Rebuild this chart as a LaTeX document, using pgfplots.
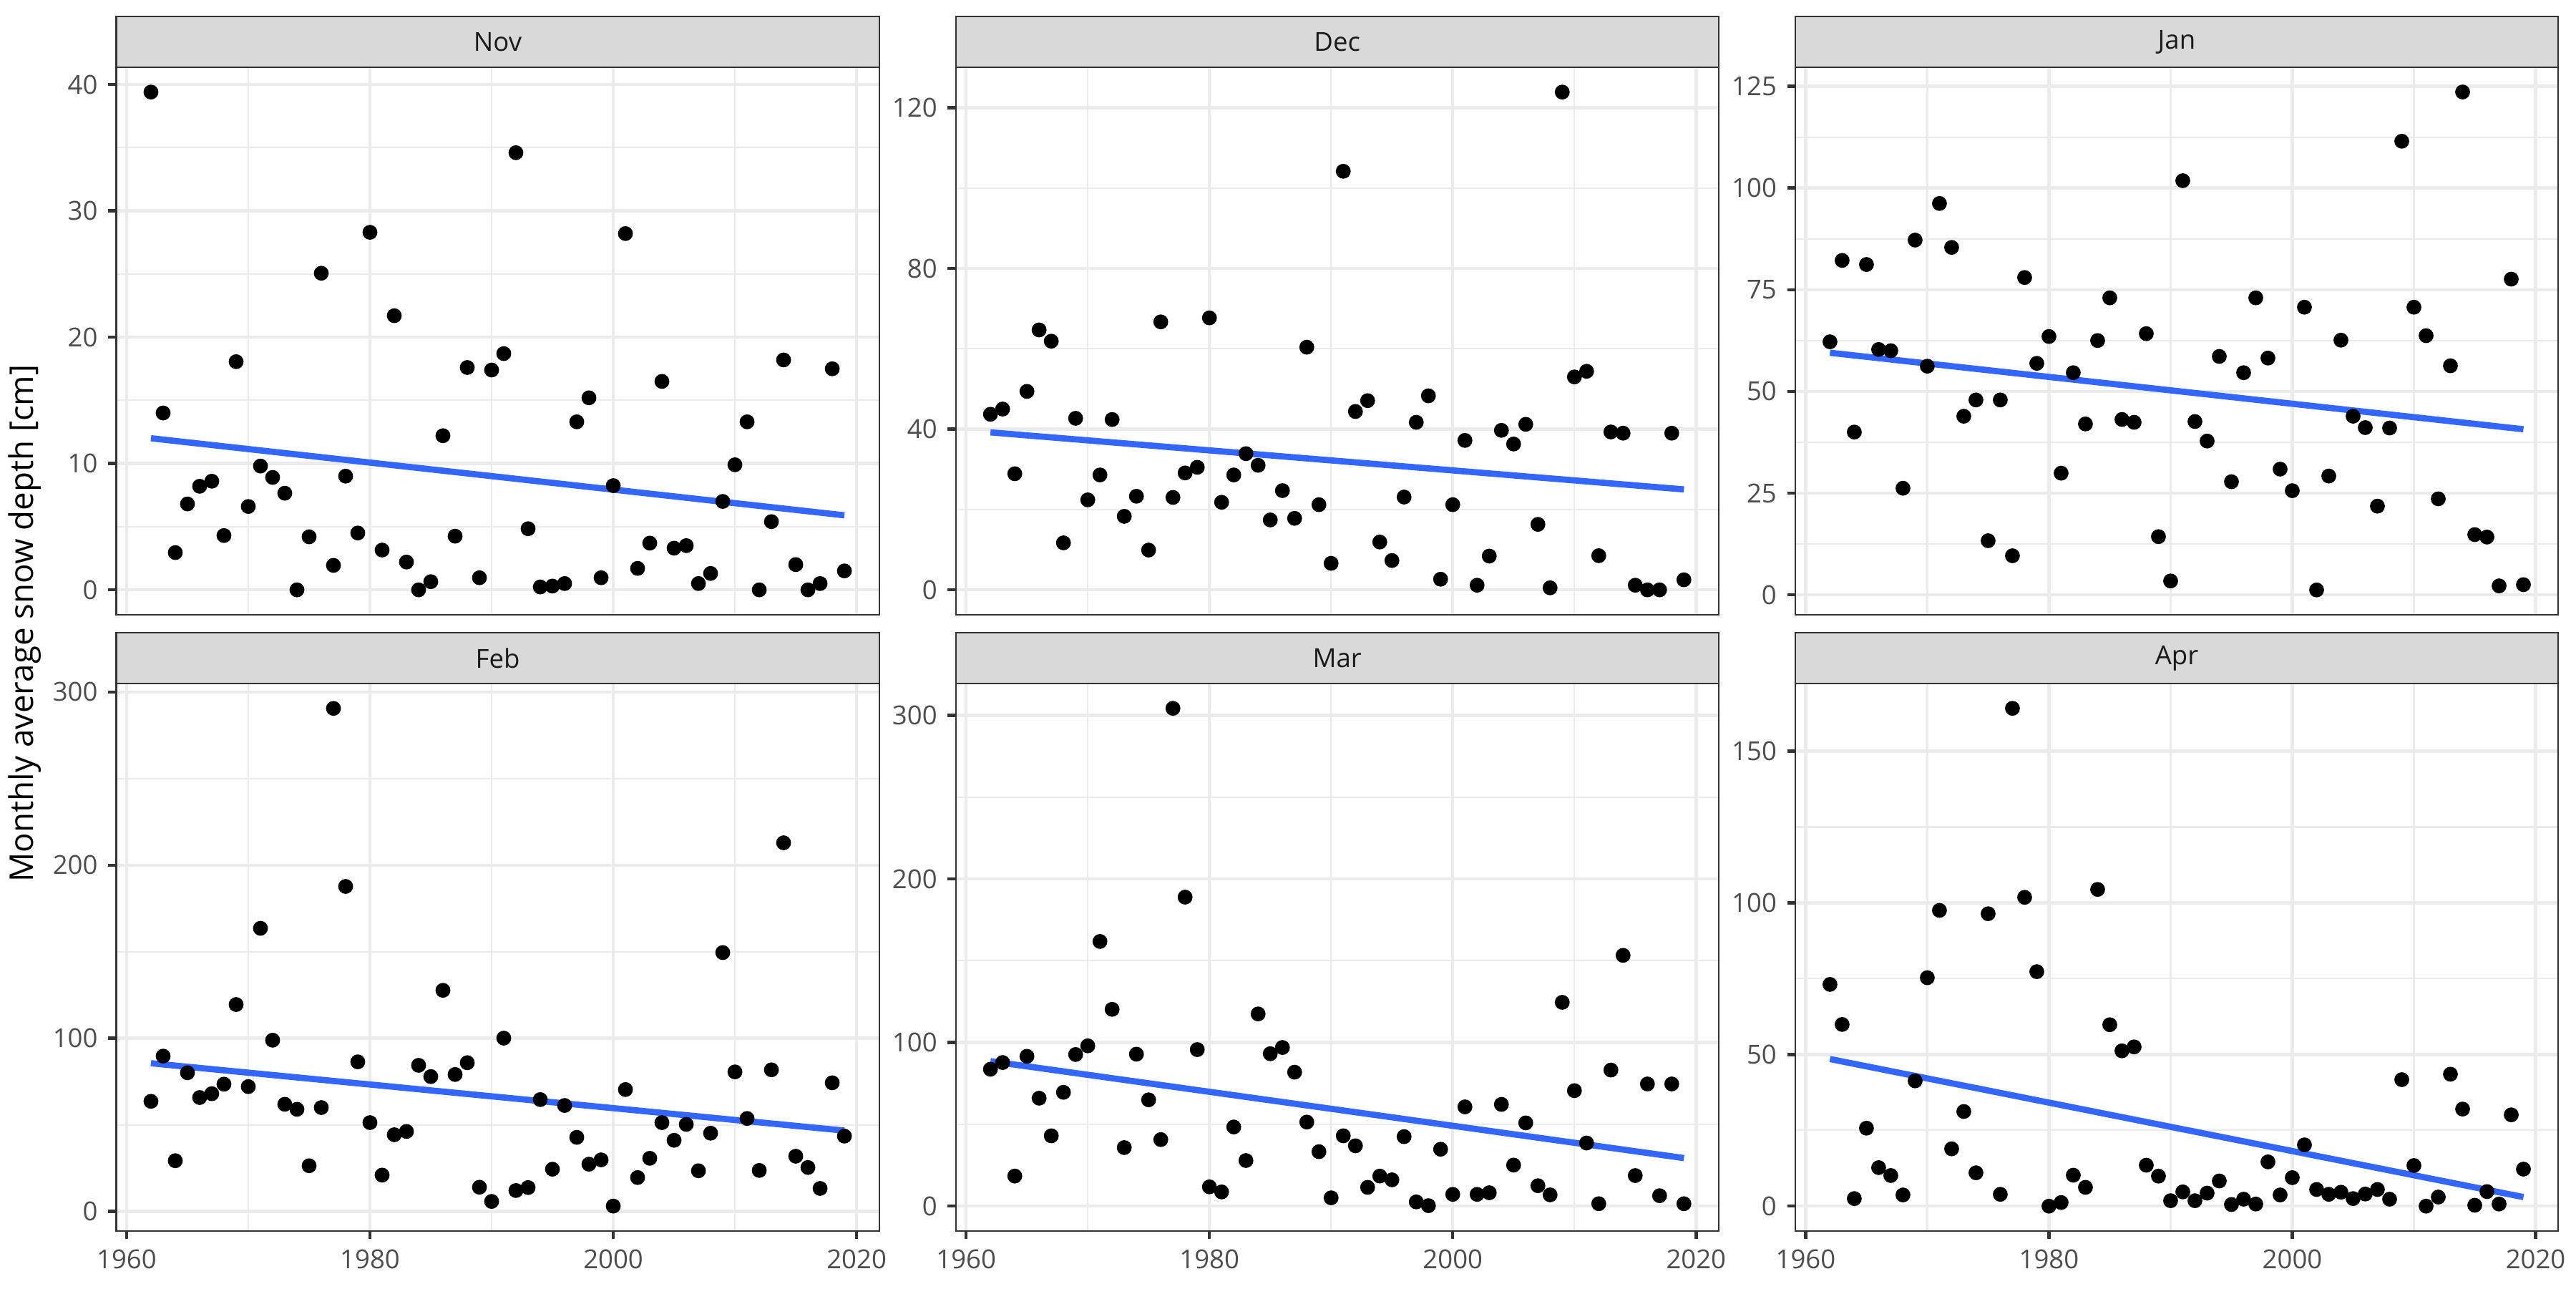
\documentclass[border=0pt]{standalone}
\usepackage{fontspec}
\setmainfont{Open Sans}
\usepackage{pgfplots}
\usepackage{pgfplotstable}
\pgfplotsset{compat=1.18}
\definecolor{grey92}{HTML}{EBEBEB}
\definecolor{grey85}{HTML}{D9D9D9}
\definecolor{grey20}{HTML}{333333}
\definecolor{grey30}{HTML}{4D4D4D}
\definecolor{grey10}{HTML}{1A1A1A}
\definecolor{ggblue}{HTML}{3366FF}
\pgfplotstableread{
year nov dec jan feb mar apr
1962 39.4 43.7 62.2 63.6 83.7 73.1
1963 14.0 45.0 82.2 89.7 87.8 59.9
1964 2.95 28.9 40.0 29.3 18.4 2.5
1965 6.8 49.4 81.2 80.1 91.6 25.7
1966 8.2 64.7 60.3 65.8 66.0 12.7
1967 8.6 61.9 60.0 68.0 43.0 10.1
1968 4.3 11.7 26.2 73.5 69.6 3.7
1969 18.06 42.7 87.2 119.5 92.7 41.3
1970 6.6 22.4 56.2 72.1 98.0 75.3
1971 9.8 28.6 96.2 163.5 161.8 97.5
1972 8.9 42.4 85.4 98.9 120.3 18.9
1973 7.65 18.3 43.9 61.9 35.8 31.2
1974 0.0 23.3 47.9 59.0 92.9 11.0
1975 4.2 9.9 13.3 26.4 65.0 96.4
1976 25.06 66.7 47.9 60.0 40.7 3.9
1977 1.94 23.0 9.6 290.5 304.3 164.1
1978 9.0 29.1 78.0 187.7 188.9 101.8
1979 4.5 30.5 56.9 86.4 95.7 77.3
1980 28.3 67.7 63.5 51.3 11.8 0.0
1981 3.15 21.8 29.9 21.0 8.7 1.2
1982 21.7 28.6 54.6 44.3 48.4 10.2
1983 2.2 33.9 42.0 46.2 27.9 6.2
1984 0.0 31.0 62.5 84.4 117.5 104.4
1985 0.65 17.4 73.0 77.9 93.2 59.8
1986 12.2 24.7 43.1 127.7 97.0 51.2
1987 4.25 17.8 42.4 79.1 81.9 52.5
1988 17.6 60.4 64.2 85.9 51.4 13.5
1989 0.96 21.2 14.3 14.0 33.3 9.9
1990 17.4 6.6 3.4 5.8 5.1 1.8
1991 18.7 104.2 101.8 100.1 43.0 4.7
1992 34.6 44.4 42.6 12.1 36.9 1.8
1993 4.84 47.1 37.8 13.8 11.5 4.3
1994 0.23 11.9 58.6 64.6 18.4 8.3
1995 0.3 7.3 27.8 24.4 16.1 0.55
1996 0.5 23.1 54.6 61.2 42.5 2.3
1997 13.3 41.7 73.0 42.8 2.6 0.7
1998 15.2 48.3 58.2 27.3 0.3 14.6
1999 0.96 2.65 30.9 29.8 34.8 3.7
2000 8.25 21.2 25.6 3.1 7.2 9.4
2001 28.2 37.2 70.7 70.4 60.7 20.2
2002 1.7 1.15 1.2 19.6 7.2 5.5
2003 3.7 8.4 29.2 30.7 8.2 3.9
2004 16.5 39.7 62.6 51.3 62.2 4.6
2005 3.3 36.3 43.9 41.1 25.1 2.5
2006 3.5 41.2 41.1 50.3 50.9 4.0
2007 0.5 16.3 21.8 23.5 12.5 5.5
2008 1.3 0.5 41.0 45.2 6.9 2.3
2009 7.0 123.9 111.5 149.5 124.6 41.7
2010 9.9 53.0 70.7 80.6 70.6 13.4
2011 13.3 54.4 63.7 53.7 38.6 0.0
2012 0.0 8.5 23.6 23.7 1.5 3.0
2013 5.4 39.3 56.3 81.8 83.2 43.5
2014 18.2 39.0 123.6 212.9 153.3 32.0
2015 2.0 1.15 14.8 31.9 18.7 0.3
2016 0.0 0.0 14.2 25.4 74.7 4.8
2017 0.5 0.0 2.2 13.3 6.4 0.7
2018 17.5 39.0 77.6 74.3 74.7 30.1
2019 1.5 2.5 2.5 43.5 1.5 12.2
}\snow
\pgfplotsset{
  panel/.style={
    scale only axis, width=256.8pt, height=184.3pt, anchor=south west,
    xmin=1959.15, xmax=2021.85,
    xtick={1960,1980,2000,2020}, minor xtick={1970,1990,2010},
    grid=both,
    major grid style={color=grey92, line width=1.07pt},
    minor grid style={color=grey92, line width=0.53pt},
    axis line style={draw=grey20, line width=0.5pt},
    tick align=outside, tick pos=left,
    major tick length=2.75pt, minor tick length=0pt,
    tick style={color=grey20, line width=1.07pt},
    ticklabel style={font=\fontsize{8.8}{10}\selectfont, text=grey30},
    /pgf/number format/assume math mode=true,
    /pgf/number format/1000 sep={},
    yticklabel style={anchor=east},
  },
  toprow/.style={xticklabels={}, xtick style={draw=none}},
  pts/.style={only marks, mark=*, mark size=2.3pt, black, mark options={draw=black, fill=black}},
  trend/.style={ggblue, line width=2.1pt, no marks},
}
\newcommand\strip[2]{%
  \draw[fill=grey85, draw=grey20, line width=0.5pt] (#1.north west) rectangle ([yshift=17pt]#1.north east);
  \path (#1.north west) -- ([yshift=17pt]#1.north east) node[midway, font=\fontsize{8.8}{10}\selectfont, text=grey10] {#2};}
\begin{document}
\begin{tikzpicture}
\useasboundingbox (0,0) rectangle (867.24pt,433.62pt);
% Nov
\begin{axis}[panel, toprow, name=p1, at={(39.15pt,226.7pt)}, ymin=-1.97, ymax=41.37,
  ytick={0,10,20,30,40}, minor ytick={5,15,25,35}]
\addplot[pts] table[x=year, y=nov] {\snow};
\addplot[trend] coordinates {(1962,12.0) (2019,5.9)};
\end{axis}
% Dec
\begin{axis}[panel, toprow, name=p2, at={(321.77pt,226.7pt)}, ymin=-6.2, ymax=130.1,
  ytick={0,40,80,120}, minor ytick={20,60,100}]
\addplot[pts] table[x=year, y=dec] {\snow};
\addplot[trend] coordinates {(1962,39.2) (2019,25.0)};
\end{axis}
% Jan
\begin{axis}[panel, toprow, name=p3, at={(604.4pt,226.7pt)}, ymin=-4.9, ymax=129.7,
  ytick={0,25,50,75,100,125}, minor ytick={12.5,37.5,62.5,87.5,112.5}]
\addplot[pts] table[x=year, y=jan] {\snow};
\addplot[trend] coordinates {(1962,59.5) (2019,40.7)};
\end{axis}
% Feb
\begin{axis}[panel, name=p4, at={(39.15pt,19.27pt)}, ymin=-11.3, ymax=304.9,
  ytick={0,100,200,300}, minor ytick={50,150,250}]
\addplot[pts] table[x=year, y=feb] {\snow};
\addplot[trend] coordinates {(1962,85.6) (2019,46.7)};
\end{axis}
% Mar
\begin{axis}[panel, name=p5, at={(321.77pt,19.27pt)}, ymin=-15.2, ymax=319.5,
  ytick={0,100,200,300}, minor ytick={50,150,250}]
\addplot[pts] table[x=year, y=mar] {\snow};
\addplot[trend] coordinates {(1962,88.6) (2019,29.4)};
\end{axis}
% Apr
\begin{axis}[panel, name=p6, at={(604.4pt,19.27pt)}, ymin=-8.2, ymax=172.3,
  ytick={0,50,100,150}, minor ytick={25,75,125}]
\addplot[pts] table[x=year, y=apr] {\snow};
\addplot[trend] coordinates {(1962,48.5) (2019,3.0)};
\end{axis}
\strip{p1}{Nov}
\strip{p2}{Dec}
\strip{p3}{Jan}
\strip{p4}{Feb}
\strip{p5}{Mar}
\strip{p6}{Apr}
\node[rotate=90, font=\fontsize{11}{13}\selectfont, text=black] at (8.4pt,223.8pt) {Monthly average snow depth [cm]};
\end{tikzpicture}
\end{document}
